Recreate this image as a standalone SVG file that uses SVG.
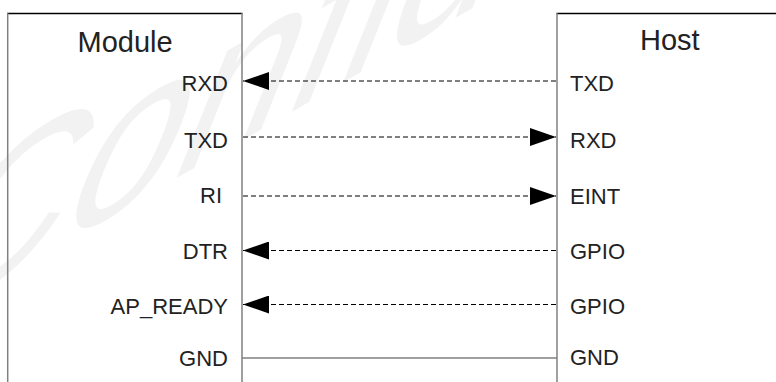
<svg xmlns="http://www.w3.org/2000/svg" width="776" height="382" viewBox="0 0 776 382">
  <style>
    .lbl { font-family: "Liberation Sans", Arial, sans-serif; font-size: 22px; fill: #222; }
    .title { font-family: "Liberation Sans", Arial, sans-serif; font-size: 29px; fill: #222; }
    .side { stroke: #808080; stroke-width: 1.5; fill: none; }
    .top { stroke: #000; stroke-width: 1.3; fill: none; }
    .dash { stroke: #000; stroke-width: 1; stroke-dasharray: 5 3; fill: none; }
    .solid { stroke: #808080; stroke-width: 1.5; fill: none; }
    .wm { font-family: "Liberation Sans", Arial, sans-serif; font-size: 230px; fill: #f2f2f2; }
  </style>
  <defs>
    <marker id="arr" markerUnits="userSpaceOnUse" markerWidth="27" markerHeight="18" refX="26" refY="9" orient="auto" viewBox="0 0 27 18">
      <polygon points="0,0 26,9 0,18" fill="#000"/>
    </marker>
  </defs>
  <rect width="776" height="382" fill="#fff"/>
  <text class="wm" transform="matrix(0.87,-0.5,-0.42,1.05,-93,333)">Confidential</text>

  <g id="module">
    <line class="top" x1="7" y1="13.5" x2="242.5" y2="13.5"/>
    <line class="side" x1="7.7" y1="13" x2="7.7" y2="382"/>
    <line class="side" x1="242" y1="13" x2="242" y2="382"/>
    <text class="title" x="77.5" y="52">Module</text>
    <text class="lbl" x="228" y="91" text-anchor="end">RXD</text>
    <text class="lbl" x="228" y="148" text-anchor="end">TXD</text>
    <text class="lbl" x="222" y="203" text-anchor="end">RI</text>
    <text class="lbl" x="228" y="259" text-anchor="end">DTR</text>
    <text class="lbl" x="228" y="314" text-anchor="end">AP_READY</text>
    <text class="lbl" x="228" y="366" text-anchor="end">GND</text>
  </g>

  <g id="host">
    <line class="top" x1="556.5" y1="13.5" x2="776" y2="13.5"/>
    <line class="side" x1="557" y1="13" x2="557" y2="382"/>
    <text class="title" x="640" y="50">Host</text>
    <text class="lbl" x="570" y="91">TXD</text>
    <text class="lbl" x="570" y="148">RXD</text>
    <text class="lbl" x="570" y="204">EINT</text>
    <text class="lbl" x="570" y="259">GPIO</text>
    <text class="lbl" x="570" y="314">GPIO</text>
    <text class="lbl" x="570" y="365">GND</text>
  </g>

  <g id="connectors">
    <line class="dash" x1="556" y1="81" x2="243" y2="81" marker-end="url(#arr)"/>
    <line class="dash" x1="243" y1="137" x2="556" y2="137" marker-end="url(#arr)"/>
    <line class="dash" x1="243" y1="196" x2="556" y2="196" marker-end="url(#arr)"/>
    <line class="dash" x1="556" y1="250.5" x2="243" y2="250.5" marker-end="url(#arr)"/>
    <line class="dash" x1="556" y1="304.5" x2="243" y2="304.5" marker-end="url(#arr)"/>
    <line class="solid" x1="242" y1="358" x2="557" y2="358"/>
  </g>
</svg>
